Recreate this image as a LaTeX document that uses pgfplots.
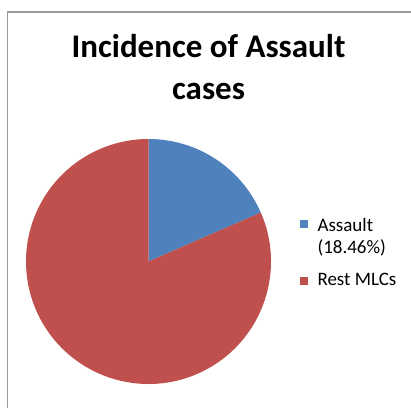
\documentclass[border=0pt]{standalone}
\usepackage{fontspec}
\setmainfont{Carlito}
\usepackage{pgfplots}
\pgfplotsset{compat=1.18}

\definecolor{assaultblue}{HTML}{4F81BD}
\definecolor{restred}{HTML}{C0504D}
\definecolor{framegray}{RGB}{155,155,155}

% shares in percent
\def\assault{18.46}
\def\rest{81.54}

\begin{document}
\begin{tikzpicture}[x=1bp,y=1bp]
\path[use as bounding box] (0,0) rectangle (411,408);
% chart frame (right and bottom edges lie outside the picture)
\draw[framegray, line width=1.3bp] (7.5,-10) -- (7.5,396) -- (420,396);

\node[font=\fontsize{33bp}{40bp}\selectfont\bfseries, anchor=base] at (208.5,351) {Incidence of Assault};
\node[font=\fontsize{33bp}{40bp}\selectfont\bfseries, anchor=base] at (208.5,309) {cases};

\pgfmathsetmacro{\angA}{\assault*3.6}
\pgfmathsetmacro{\angB}{\rest*3.6}
\begin{axis}[
  at={(148.5bp,146.5bp)}, anchor=center,
  scale only axis, width=245bp, height=245bp,
  xmin=-1, xmax=1, ymin=-1, ymax=1,
  hide axis, clip=false,
  legend style={draw=none, fill=none, inner sep=0pt,
    at={(rel axis cs:1.118,0.688)}, anchor=north west,
    font=\fontsize{19bp}{22bp}\selectfont,
    nodes={inner sep=0pt}, column sep=10bp, row sep=41bp},
  legend cell align=left,
]
\fill[assaultblue] (axis cs:0,0) -- (axis cs:0,1) arc[start angle=90, end angle=90-\angA, radius=1] -- cycle;
\fill[restred] (axis cs:0,0) -- ({cos(90-\angA)},{sin(90-\angA)}) arc[start angle=90-\angA, end angle=90-\angA-\angB, radius=1] -- cycle;
\addlegendimage{legend image code/.code={\fill[assaultblue] (0bp,-3.5bp) rectangle (7bp,3.5bp);}}
\addlegendentry{\begin{tabular}[t]{@{}l@{}}Assault\\(18.46\%)\end{tabular}}
\addlegendimage{legend image code/.code={\fill[restred] (0bp,-3.5bp) rectangle (7bp,3.5bp);}}
\addlegendentry{Rest MLCs}
\end{axis}
\end{tikzpicture}
\end{document}
